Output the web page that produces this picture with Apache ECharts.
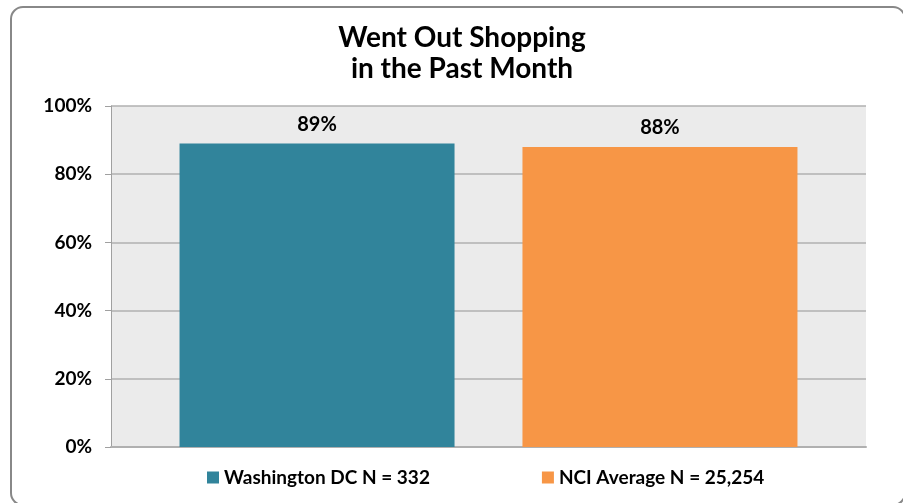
<!DOCTYPE html>
<html lang="en">
<head>
<meta charset="UTF-8">
<title>Went Out Shopping</title>
<script src="https://cdn.jsdelivr.net/npm/echarts@6/dist/echarts.min.js"></script>
<style>
  html, body { margin: 0; padding: 0; background: #fff; }
  #main { width: 903px; height: 503px; }
</style>
</head>
<body>
<div id="main"></div>
<script>
// chart data
var categories = ['Went Out Shopping'];
var seriesNames = ['Washington DC N = 332', 'NCI Average N = 25,254'];
var dcValues = [89];
var nciValues = [88];
var yTicks = [0, 20, 40, 60, 80, 100];

var font = 'Lato, "Open Sans", sans-serif';
var myChart = echarts.init(document.getElementById('main'));

var labelStyle = {
    show: true, position: 'top', distance: 9, formatter: '{c}%',
    fontFamily: font, fontSize: 20, fontWeight: 'bold', color: '#000'
};

var option = {
    animation: false,
    title: {
        text: 'Went Out Shopping\nin the Past Month',
        left: 457,
        textAlign: 'center',
        top: 17,
        textStyle: { fontFamily: font, fontSize: 28, fontWeight: 'bold', color: '#000', lineHeight: 31 }
    },
    graphic: [{
        type: 'rect',
        shape: { x: 11, y: 7, width: 894, height: 498, r: 12 },
        style: { fill: 'none', stroke: '#888', lineWidth: 2 },
        z: -1
    }],
    legend: {
        data: seriesNames,
        bottom: 11,
        left: 202,
        itemWidth: 12,
        itemHeight: 12,
        itemGap: 112,
        icon: 'rect',
        textStyle: { fontFamily: font, fontSize: 19, fontWeight: 'bold', color: '#000' }
    },
    grid: {
        left: 111,
        right: 37,
        top: 106,
        bottom: 56,
        show: true,
        backgroundColor: '#ebebeb',
        borderWidth: 0
    },
    xAxis: {
        type: 'category',
        data: categories,
        axisLine: { lineStyle: { color: '#b0b0b0', width: 2 } },
        axisTick: { show: false },
        axisLabel: { show: false }
    },
    yAxis: {
        type: 'value',
        min: yTicks[0],
        max: yTicks[yTicks.length - 1],
        interval: 20,
        axisLine: { show: true, lineStyle: { color: '#a0a0a0' } },
        axisTick: { show: true, length: 6, lineStyle: { color: '#a0a0a0' } },
        splitLine: { lineStyle: { color: '#b0b0b0', width: 1.5 } },
        axisLabel: {
            formatter: '{value}%',
            margin: 19,
            fontFamily: font, fontSize: 19, fontWeight: 'bold', color: '#000'
        }
    },
    series: [{
        name: seriesNames[0],
        type: 'bar',
        data: dcValues,
        barWidth: 275,
        barGap: '24.7%',
        barCategoryGap: '18%',
        itemStyle: { color: '#31849b' },
        label: labelStyle
    }, {
        name: seriesNames[1],
        type: 'bar',
        data: nciValues,
        barWidth: 275,
        itemStyle: { color: '#f79646' },
        label: labelStyle
    }]
};
myChart.setOption(option);
</script>
</body>
</html>
